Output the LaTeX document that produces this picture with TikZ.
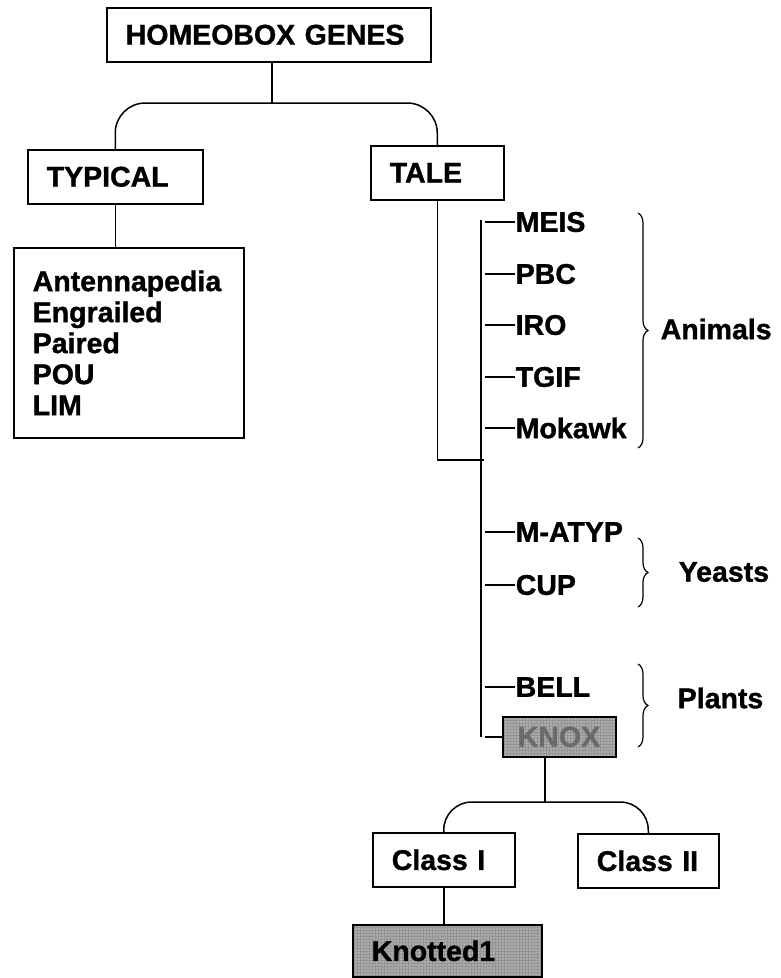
\documentclass[tikz,border=0pt]{standalone}
\usepackage{fontspec}
\setmainfont{Liberation Sans}[BoldFeatures={FakeBold=1.2}]
\usetikzlibrary{positioning}
\usetikzlibrary{decorations.pathreplacing}
\usetikzlibrary{patterns}

\begin{document}
\begin{tikzpicture}[x=1pt, y=-1pt, line width=1.5pt,
  font=\fontsize{28.5}{31}\selectfont\bfseries,
  genebox/.style={draw, anchor=north west, minimum height=54pt, inner xsep=19pt, inner ysep=0pt, text width=#1, align=left},
  shaded/.style={preaction={fill=black!32}, pattern=grid, pattern color=black!42},
  gene/.style={anchor=west, inner sep=0pt},
  group/.style={decorate, decoration={brace, amplitude=10pt}, line width=1.2pt}]
  \useasboundingbox (0,0) rectangle (780,978);

  % Top of the tree
  \node[genebox=286pt] (homeo) at (106,7) {HOMEOBOX GENES};
  \node[genebox=137pt] (typical) at (27,149) {TYPICAL};
  \node[genebox=95pt] (tale) at (370,145) {TALE};
  \node[genebox=192pt, minimum height=190pt] (members) at (13,247)
    {Antennapedia\\Engrailed\\Paired\\POU\\LIM};

  \coordinate (fork) at (272,103);
  \draw (fork |- homeo.south) -- (fork);
  \draw[rounded corners=30pt] (typical.north) |- (fork) -| (tale.north);
  \draw (typical.south) -- (typical.south |- members.north);

  % TALE classes
  \node[gene] (meis)   at (515,222) {MEIS};
  \node[gene] (pbc)    at (515,274) {PBC};
  \node[gene] (iro)    at (515,325) {IRO};
  \node[gene] (tgif)   at (515,377) {TGIF};
  \node[gene] (mokawk) at (515,428) {Mokawk};
  \node[gene] (matyp)  at (515,532) {M-ATYP};
  \node[gene] (cup)    at (515,585) {CUP};
  \node[gene] (bell)   at (515,687) {BELL};
  \node[genebox=83pt, minimum height=40pt, inner xsep=15pt, shaded, text=black!58] (knox) at (502,716) {KNOX};

  \coordinate (join) at (484,460);
  \coordinate (trunktop) at (481,220);
  \coordinate (trunkend) at (481,737);
  \coordinate (tick) at (485,0);
  \draw (tale.south) |- (join);
  \draw (trunktop) -- (trunkend);
  \draw (meis.west) -- (meis.west -| tick)
        (pbc.west) -- (pbc.west -| tick)
        (iro.west) -- (iro.west -| tick)
        (tgif.west) -- (tgif.west -| tick)
        (mokawk.west) -- (mokawk.west -| tick)
        (matyp.west) -- (matyp.west -| tick)
        (cup.west) -- (cup.west -| tick)
        (bell.west) -- (bell.west -| tick)
        (knox.west) -- (knox.west -| tick);

  % Groups
  \draw[group] (638,213) -- (638,448);
  \node[gene] (animals) at (660,329) {Animals};
  \draw[group] (638,538) -- (638,607);
  \node[gene] (yeasts) at (678,572) {Yeasts};
  \draw[group] (638,664) -- (638,747);
  \node[gene] (plants) at (677,698) {Plants};

  % KNOX classes
  \node[genebox=104pt] (class1) at (372,832) {Class I};
  \node[genebox=103pt] (class2) at (577,833) {Class II};
  \node[genebox=151pt, minimum height=52pt, shaded] (knotted) at (352,924) {Knotted1};

  \coordinate (knoxfork) at (545,802);
  \draw (knoxfork |- knox.south) -- (knoxfork);
  \draw[rounded corners=28pt] (class1.north) |- (knoxfork) -| (class2.north);
  \draw (class1.south) -- (class1.south |- knotted.north);
\end{tikzpicture}
\end{document}
